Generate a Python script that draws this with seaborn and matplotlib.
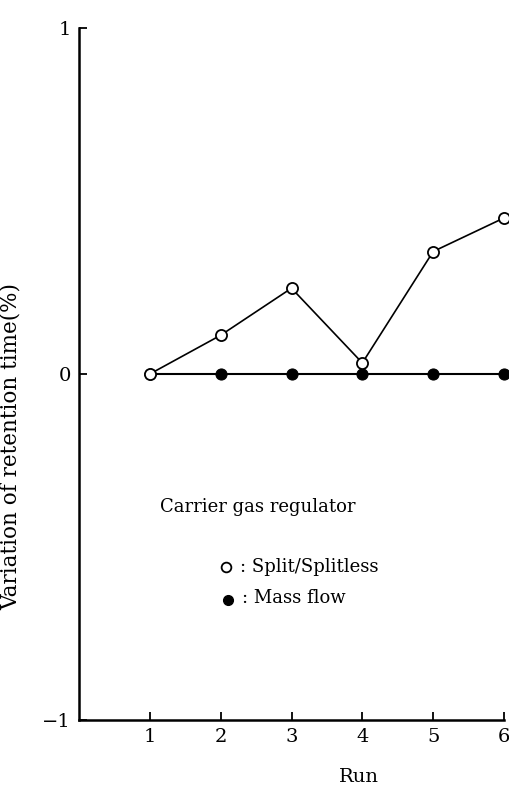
import matplotlib
matplotlib.use("Agg")
import matplotlib.pyplot as plt
import seaborn as sns
import pandas as pd

runs = [1, 2, 3, 4, 5, 6]
split_splitless = [0.0, 0.112, 0.248, 0.032, 0.354, 0.451]
mass_flow = [0.0, 0.0, 0.0, 0.0, 0.0, 0.0]
y_ticks = [-1, 0, 1]
x_ticks = [1, 2, 3, 4, 5, 6]

sns.set_style("ticks")
plt.rcParams['font.family'] = ['DejaVu Serif', 'Liberation Serif']
plt.rcParams['mathtext.fontset'] = 'dejavuserif'
plt.rcParams['text.color'] = 'black'
plt.rcParams['axes.labelcolor'] = 'black'
plt.rcParams['xtick.color'] = 'black'
plt.rcParams['ytick.color'] = 'black'
plt.rcParams['axes.edgecolor'] = 'black'

fig = plt.figure(figsize=(5.09, 7.89), dpi=100)
ax = fig.add_axes([79/509, 1-720/789, 425/509, 692/789])

df_m = pd.DataFrame({"run": runs, "val": mass_flow})
df_s = pd.DataFrame({"run": runs, "val": split_splitless})

sns.lineplot(data=df_m, x="run", y="val", ax=ax, color="black", lw=1.5,
             marker="o", markersize=8, markerfacecolor="black",
             markeredgecolor="black", clip_on=False, zorder=3)
sns.lineplot(data=df_s, x="run", y="val", ax=ax, color="black", lw=1.2,
             marker="o", markersize=8, markerfacecolor="white",
             markeredgecolor="black", markeredgewidth=1.3, clip_on=False, zorder=4)

ax.set_xlim(0, 6)
ax.set_ylim(-1, 1)
ax.set_xticks(x_ticks)
ax.set_xticklabels([str(t) for t in x_ticks])
ax.set_yticks(y_ticks)
ax.set_yticklabels(["\u22121", "0", "1"])
ax.tick_params(direction="in", length=6, width=1.3, labelsize=14, pad=6,
               colors="black")
for s in ["top", "right"]:
    ax.spines[s].set_visible(False)
for s in ["left", "bottom"]:
    ax.spines[s].set_linewidth(1.8)
    ax.spines[s].set_color("black")

ax.set_xlabel("Run", fontsize=14)
ax.xaxis.set_label_coords(0.658, -0.069)
ax.set_ylabel("Variation of retention time(%)", fontsize=15.5)
ax.yaxis.set_label_coords(-0.135, 0.395)

ax.text(0.191, 0.308, "Carrier gas regulator", transform=ax.transAxes,
        fontsize=13, va="center", ha="left")
ax.plot([0.346], [0.221], transform=ax.transAxes, marker="o", markersize=7,
        markerfacecolor="white", markeredgecolor="black", markeredgewidth=1.3, clip_on=False)
ax.text(0.378, 0.221, ": Split/Splitless", transform=ax.transAxes,
        fontsize=13, va="center", ha="left")
ax.plot([0.351], [0.173], transform=ax.transAxes, marker="o", markersize=7,
        markerfacecolor="black", markeredgecolor="black", clip_on=False)
ax.text(0.384, 0.177, ": Mass flow", transform=ax.transAxes,
        fontsize=13, va="center", ha="left")

leg = ax.get_legend()
if leg is not None:
    leg.remove()

fig.savefig("out.png", dpi=100)
